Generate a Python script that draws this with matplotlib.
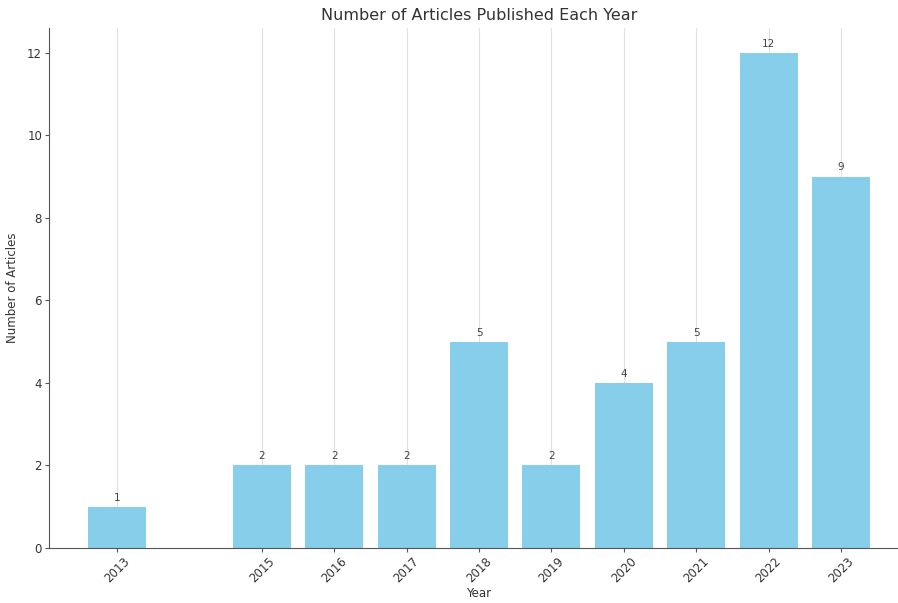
import matplotlib
matplotlib.use("Agg")
import matplotlib.pyplot as plt

years = [2013, 2015, 2016, 2017, 2018, 2019, 2020, 2021, 2022, 2023]
counts = [1, 2, 2, 2, 5, 2, 4, 5, 12, 9]

plt.rcParams["font.family"] = "DejaVu Sans"
text_color = "#333333"

fig = plt.figure(figsize=(8.98, 6.03), dpi=100)
ax = fig.add_axes([49 / 898, 55 / 603, 860 / 898, 520 / 603])

bars = ax.bar(years, counts, width=0.8, color="skyblue", zorder=2)
for rect, val in zip(bars, counts):
    ax.text(rect.get_x() + rect.get_width() / 2, rect.get_height() + 0.1, str(val),
            ha="center", va="bottom", fontsize=7.5, color="#444444", zorder=3)

ax.set_xticks(years)
ax.set_xticklabels([str(y) for y in years], rotation=45, fontsize=8.5, color=text_color)
ax.tick_params(axis="both", length=3, pad=2, color="#555555")
ax.tick_params(axis="y", labelsize=8.5, labelcolor=text_color)
ax.set_ylim(0, 12.6)
ax.set_xlim(2012.06, 2023.94)

ax.grid(axis="x", color="#e0e0e0", linewidth=0.8, zorder=0)
ax.set_axisbelow(True)

for side in ("top", "right"):
    ax.spines[side].set_visible(False)
for side in ("left", "bottom"):
    ax.spines[side].set_color("#555555")

ax.set_title("Number of Articles Published Each Year", fontsize=11.5, color=text_color, pad=6)
ax.set_xlabel("Year", fontsize=8.5, color=text_color, labelpad=1)
ax.set_ylabel("Number of Articles", fontsize=8.5, color=text_color, labelpad=6)

fig.savefig("out.png", dpi=100)
